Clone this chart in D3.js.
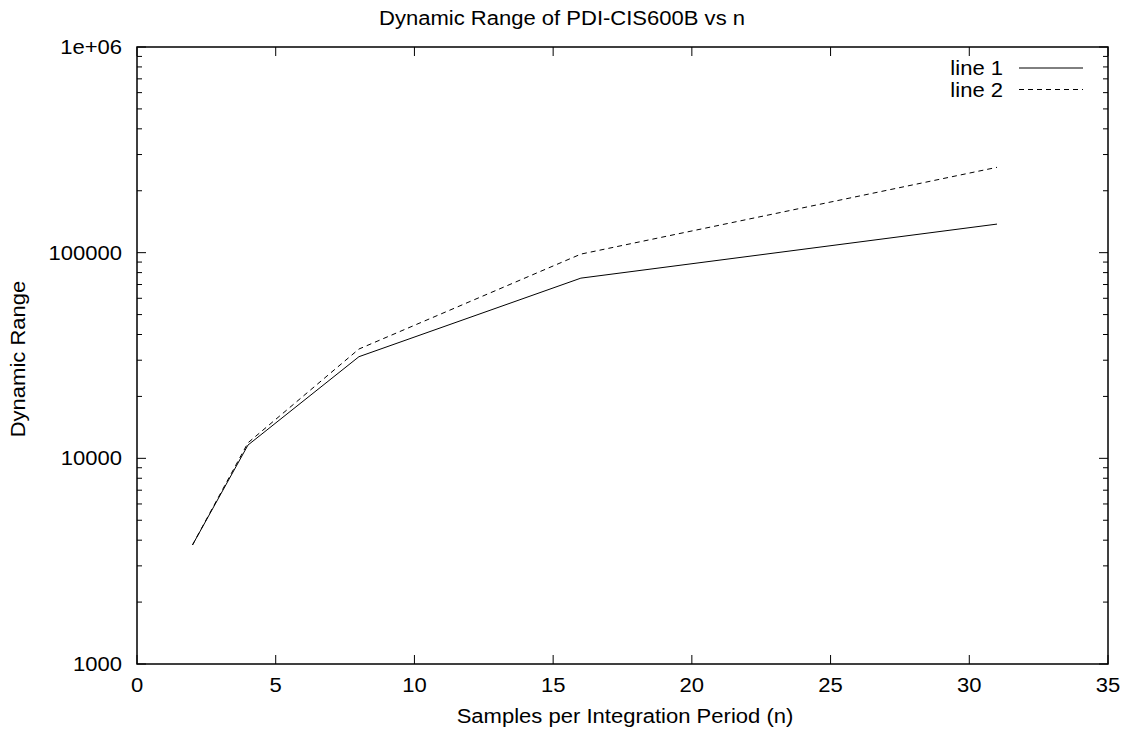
<!DOCTYPE html>
<html>
<head>
<meta charset="utf-8">
<script src="https://cdn.jsdelivr.net/npm/d3@7"></script>
<style>
  body { margin: 0; background: #fff; }
  text { font-family: "Liberation Sans", Arial, sans-serif; fill: #000; }
</style>
</head>
<body>
<svg id="chart" width="1125" height="729"></svg>
<script>
// samples per integration period
const samples = [2, 4, 8, 16, 31]
// dynamic range
const line1 = [3790, 11600, 31200, 75200, 137700]
const line2 = [3790, 11900, 34000, 98400, 260000]
const seriesNames = ['line 1', 'line 2']
const xTicks = [0, 5, 10, 15, 20, 25, 30, 35]
const yTicks = [1000, 10000, 100000, 1000000]
const yTickLabels = ['1000', '10000', '100000', '1e+06']

const svg = d3.select('#chart')
const m = {left: 137, right: 1108, top: 47, bottom: 664}

const x = d3.scaleLinear().domain([0, 35]).range([m.left, m.right])
const y = d3.scaleLog().domain([1000, 1e6]).range([m.bottom, m.top])

const major = 9, minor = 5
const fs = 19.5, stretch = 1.13

// the source font is a bit wider than Liberation Sans, so stretch it horizontally
function label (px, py, str, anchor, rot) {
  return svg.append('text')
    .attr('transform', 'translate(' + px + ',' + py + ')' + (rot ? ' rotate(' + rot + ')' : '') + ' scale(' + stretch + ',1)')
    .attr('text-anchor', anchor).attr('font-size', fs).text(str)
}

// frame
svg.append('rect')
  .attr('x', m.left).attr('y', m.top)
  .attr('width', m.right - m.left).attr('height', m.bottom - m.top)
  .attr('fill', 'none').attr('stroke', '#000').attr('stroke-width', 1.5)

const ticks = svg.append('g').attr('stroke', '#000').attr('stroke-width', 1)

// x ticks, bottom and top
xTicks.forEach(function (t) {
  ticks.append('line').attr('x1', x(t)).attr('x2', x(t)).attr('y1', m.bottom).attr('y2', m.bottom - major)
  ticks.append('line').attr('x1', x(t)).attr('x2', x(t)).attr('y1', m.top).attr('y2', m.top + major)
  label(x(t), m.bottom + 28, t, 'middle')
})

// y ticks, major + minor on both sides
yTicks.forEach(function (t, i) {
  ticks.append('line').attr('x1', m.left).attr('x2', m.left + major).attr('y1', y(t)).attr('y2', y(t))
  ticks.append('line').attr('x1', m.right).attr('x2', m.right - major).attr('y1', y(t)).attr('y2', y(t))
  label(m.left - 15, y(t) + 7, yTickLabels[i], 'end')
  if (t < 1e6) {
    for (let k = 2; k < 10; k++) {
      const v = t * k
      ticks.append('line').attr('x1', m.left).attr('x2', m.left + minor).attr('y1', y(v)).attr('y2', y(v))
      ticks.append('line').attr('x1', m.right).attr('x2', m.right - minor).attr('y1', y(v)).attr('y2', y(v))
    }
  }
})

// data lines
const line = d3.line().x(function (d) { return x(d[0]) }).y(function (d) { return y(d[1]) })
const series = [line1, line2]
const dashes = [null, '5,4']

series.forEach(function (vals, i) {
  svg.append('path')
    .datum(samples.map(function (s, j) { return [s, vals[j]] }))
    .attr('d', line)
    .attr('fill', 'none').attr('stroke', '#000').attr('stroke-width', 1)
    .attr('stroke-dasharray', dashes[i])
})

// legend
seriesNames.forEach(function (name, i) {
  const ly = 68 + i * 21.5
  label(1003, ly + 7, name, 'end')
  svg.append('line').attr('x1', 1019).attr('x2', 1083).attr('y1', ly).attr('y2', ly)
    .attr('stroke', '#000').attr('stroke-width', 1).attr('stroke-dasharray', dashes[i])
})

// titles
label(562, 25, 'Dynamic Range of PDI-CIS600B vs n', 'middle')
label(625, 723, 'Samples per Integration Period (n)', 'middle')
label(25, 359, 'Dynamic Range', 'middle', -90)
</script>
</body>
</html>
